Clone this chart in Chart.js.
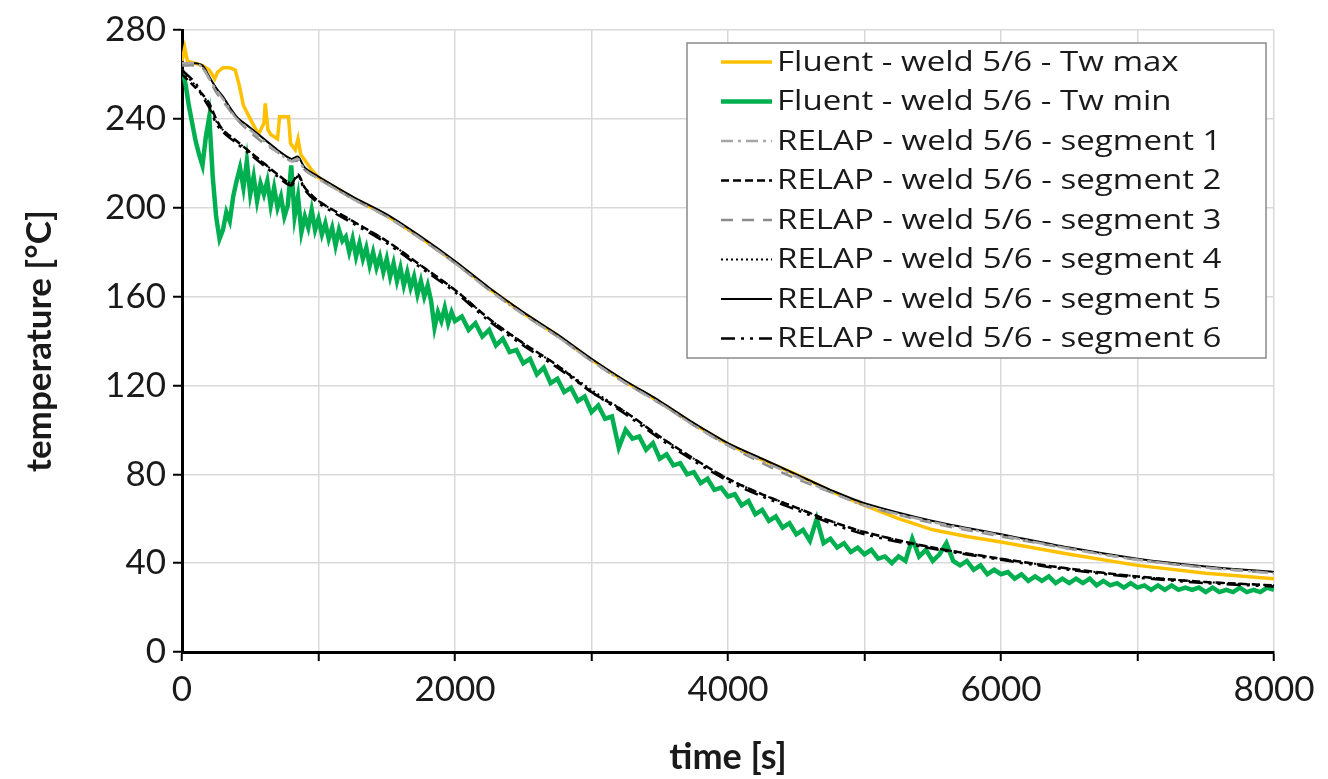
<!DOCTYPE html>
<html>
<head>
<meta charset="utf-8">
<script src="https://cdn.jsdelivr.net/npm/chart.js@4.4.0/dist/chart.umd.min.js"></script>
<style>
  html, body { margin: 0; padding: 0; background: #fff; }
</style>
</head>
<body>
<canvas id="myChart" width="1328" height="779"></canvas>
<script>
// RELAP time grid [s]
const relapTime = [0,100,150,200,250,300,400,500,600,700,800,850,900,1000,1250,1500,1750,2000,
    2250,2500,2750,3000,3250,3500,3750,4000,4250,4500,4750,5000,5500,6000,6500,7000,7500,8000];

const seg1 = [265,265,263,258,253,249,240,235,230,225,221,222,217,213,204,196,186,175,
    163,152,142,131,121,112,102,93,86,79,72,66,58.5,52.5,46.5,41.5,38,35.5];
const seg2 = [260,254,251,247,240,235,230,225,220,215,211,215,209,203,194,185,174,163,
    150,139,129,117,108,97,87,78,71,65,59,54,47,42,37.5,34,31.5,30];
const seg3 = [264,264,263,258,252,248,240,234,229,225,221,221,217,213,204,196,186,175,
    163,152,142,131,121,112,102,93,85,78,72,66,58,52,46.5,41.5,38,35.5];
const seg4 = [261,255,251,246,239,235,230,225,220,215,211,214,209,203,194,185,174,163,
    150,139,129,118,108,97,87,78,71,65,59,54,47,42,37.5,34,31.5,30];
const seg5 = [265,265,264,259,254,250,241,236,231,226,222,223,218,214,205,197,187,176,
    164,153,143,132,122,113,103,94,87,80,73,67,59,53,47,42,38.5,36];
const seg6 = [262,256,250,245,238,234,229,224,219,214,210,214,208,202,193,184,173,162,
    149,138,128,117,107,96,86,77,70,64,58,53,46.5,41.5,37,33.5,31,29.5];

// Fluent Tw max
const maxTime = [0,20,40,100,150,200,240,260,300,350,390,420,450,500,560,600,610,630,650,700,
    715,780,795,830,850,870,950,1000,1250,1500,1750,2000,2250,2500,2750,3000,3250,3500,3750,
    4000,4250,4500,4750,5000,5250,5500,5750,6000,6500,7000,7500,8000];
const twMax = [266,272,266,265,264,262,258,261,263,263,262,255,246,240,233,238,247,235,233,231,
    241,241,229,226,231,224,217,213.5,204.5,196.5,186.5,175.5,163.5,152.5,142.5,131.5,121.5,112.5,102.5,
    93.5,86.5,80,72.5,66,60,55,52,49.5,44,39,35.5,33];

// Fluent Tw min (noisy): 25 s up to 2000 s, then 50 s
const minTime = [
    0,25,50,75,100,125,150,175,200,225,250,275,300,325,350,375,400,425,450,475,
    500,525,550,575,600,625,650,675,700,725,750,775,800,825,850,875,900,925,950,975,
    1000,1025,1050,1075,1100,1125,1150,1175,1200,1225,1250,1275,1300,1325,1350,1375,1400,1425,1450,1475,
    1500,1525,1550,1575,1600,1625,1650,1675,1700,1725,1750,1775,1800,1825,1850,1875,1900,1925,1950,1975,
    2000,
    2050,2100,2150,2200,2250,2300,2350,2400,2450,2500,2550,2600,2650,2700,2750,2800,2850,2900,2950,3000,
    3050,3100,3150,3200,3250,3300,3350,3400,3450,3500,3550,3600,3650,3700,3750,3800,3850,3900,3950,4000,
    4050,4100,4150,4200,4250,4300,4350,4400,4450,4500,4550,4600,4650,4700,4750,4800,4850,4900,4950,5000,
    5050,5100,5150,5200,5250,5300,5350,5400,5450,5500,5550,5600,5650,5700,5750,5800,5850,5900,5950,6000,
    6050,6100,6150,6200,6250,6300,6350,6400,6450,6500,6550,6600,6650,6700,6750,6800,6850,6900,6950,7000,
    7050,7100,7150,7200,7250,7300,7350,7400,7450,7500,7550,7600,7650,7700,7750,7800,7850,7900,7950,8000];
const twMin = [
    262,256,246,238,230,224,219,232,241,214,196,186,190,198,194,205,212,218,209,221,
    206,214,203,211,206,212,201,209,200,205,196,201,219,196,205,189,196,191,199,190,
    195,188,193,186,191,183,190,185,187,180,186,178,184,177,182,174,180,173,178,171,
    177,169,175,167,173,165,171,164,169,161,167,160,165,158,146,153,149,155,148,153,
    149,
    151,145,148,142,145,138,141,135,136,130,132,125,128,121,123,117,119,113,115,108,
    111,105,106,92,100,96,97,91,94,87,89,84,85,80,81,76,78,73,74,70,
    71,66,68,62,64,59,61,56,58,53,55,50,60,49,51,47,49,45,47,44,
    46,42,43,40,43,41,51,43,46,41,44,49,41,39,41,37,39,35,37,35,
    36,33,35,32,34,32,34,31,33,31,33,31,33,30,32,30,31,29,31,29,
    30,28,30,28,30,28,29,28,29,27,29,27,28,27,29,27,28,27,29,28];

const yTicks = [0,40,80,120,160,200,240,280];
const xLabels = [0,2000,4000,6000,8000];

function pts(t, v) { return t.map((x, i) => ({x: x, y: v[i]})); }

const relapStyle = { pointRadius: 0, tension: 0.3, fill: false, order: 0 };

const datasets = [
    { label: 'Fluent - weld 5/6 - Tw max', data: pts(maxTime, twMax), borderColor: '#FFC000',
      borderWidth: 3.5, pointRadius: 0, tension: 0, order: 10 },
    { label: 'Fluent - weld 5/6 - Tw min', data: pts(minTime, twMin), borderColor: '#00B050',
      borderWidth: 4.5, pointRadius: 0, tension: 0, order: 11 },
    { label: 'RELAP - weld 5/6 - segment 1', data: pts(relapTime, seg1), borderColor: '#a6a6a6',
      borderWidth: 2.5, borderDash: [12,5,3,5], ...relapStyle },
    { label: 'RELAP - weld 5/6 - segment 2', data: pts(relapTime, seg2), borderColor: '#000',
      borderWidth: 2.5, borderDash: [8,4], ...relapStyle },
    { label: 'RELAP - weld 5/6 - segment 3', data: pts(relapTime, seg3), borderColor: '#8c8c8c',
      borderWidth: 2.5, borderDash: [12,9], ...relapStyle },
    { label: 'RELAP - weld 5/6 - segment 4', data: pts(relapTime, seg4), borderColor: '#000',
      borderWidth: 2, borderDash: [2,3], ...relapStyle },
    { label: 'RELAP - weld 5/6 - segment 5', data: pts(relapTime, seg5), borderColor: '#000',
      borderWidth: 2, borderDash: [], ...relapStyle },
    { label: 'RELAP - weld 5/6 - segment 6', data: pts(relapTime, seg6), borderColor: '#000',
      borderWidth: 2.5, borderDash: [14,6,3,6,3,6], ...relapStyle }
];

// legend box drawn inside the plot, top right (text a bit wider than the font)
const boxLegend = {
    id: 'boxLegend',
    afterDatasetsDraw(chart) {
        const c = chart.ctx;
        const x0 = 687, y0 = 43, x1 = 1266, y1 = 358;
        c.save();
        c.fillStyle = '#fff';
        c.fillRect(x0, y0, x1 - x0, y1 - y0);
        c.strokeStyle = '#8a8a8a';
        c.lineWidth = 1.5;
        c.strokeRect(x0, y0, x1 - x0, y1 - y0);
        c.font = '28px "Open Sans"';
        c.textBaseline = 'middle';
        c.fillStyle = '#1a1a1a';
        chart.data.datasets.forEach((ds, i) => {
            const y = 62 + i * 39.5;
            c.beginPath();
            c.strokeStyle = ds.borderColor;
            c.lineWidth = ds.borderWidth;
            c.setLineDash(ds.borderDash || []);
            c.moveTo(721, y);
            c.lineTo(772, y);
            c.stroke();
            c.setLineDash([]);
            c.save();
            c.translate(777, y + 1);
            c.scale(1.18, 1);
            c.fillText(ds.label, 0, 0);
            c.restore();
        });
        c.restore();
    }
};

const ctx = document.getElementById('myChart').getContext('2d');
new Chart(ctx, {
    type: 'line',
    data: { datasets: datasets },
    plugins: [boxLegend],
    options: {
        responsive: false,
        animation: false,
        layout: { padding: { left: 0, top: 30, right: 54, bottom: 0 } },
        plugins: { legend: { display: false }, tooltip: { enabled: false } },
        scales: {
            x: {
                type: 'linear', min: 0, max: 8000,
                afterFit: s => { s.height = 127; },
                ticks: {
                    stepSize: 1000, autoSkip: false, maxRotation: 0, padding: 8,
                    color: '#1a1a1a', font: { family: 'Lato', size: 35 },
                    callback: v => xLabels.includes(v) ? String(v) : ''
                },
                grid: { color: '#d9d9d9', lineWidth: 1.5, tickColor: '#000', tickLength: 9, tickWidth: 2 },
                border: { color: '#000', width: 3 },
                title: { display: true, text: 'time [s]', color: '#1a1a1a',
                         font: { family: 'Lato', size: 36, weight: 'bold' }, padding: { top: 0, bottom: 0 } }
            },
            y: {
                min: 0, max: 280,
                afterFit: s => { s.width = 182; },
                afterBuildTicks: s => { s.ticks = yTicks.map(v => ({ value: v })); },
                ticks: { padding: 7, color: '#1a1a1a', font: { family: 'Lato', size: 35 } },
                grid: { color: '#d9d9d9', lineWidth: 1.5, tickColor: '#000', tickLength: 9, tickWidth: 2 },
                border: { color: '#000', width: 3 },
                title: { display: true, text: 'temperature [°C]', color: '#1a1a1a',
                         font: { family: 'Lato', size: 35, weight: 'bold' }, padding: { top: 19, bottom: 0 } }
            }
        }
    }
});
</script>
</body>
</html>
